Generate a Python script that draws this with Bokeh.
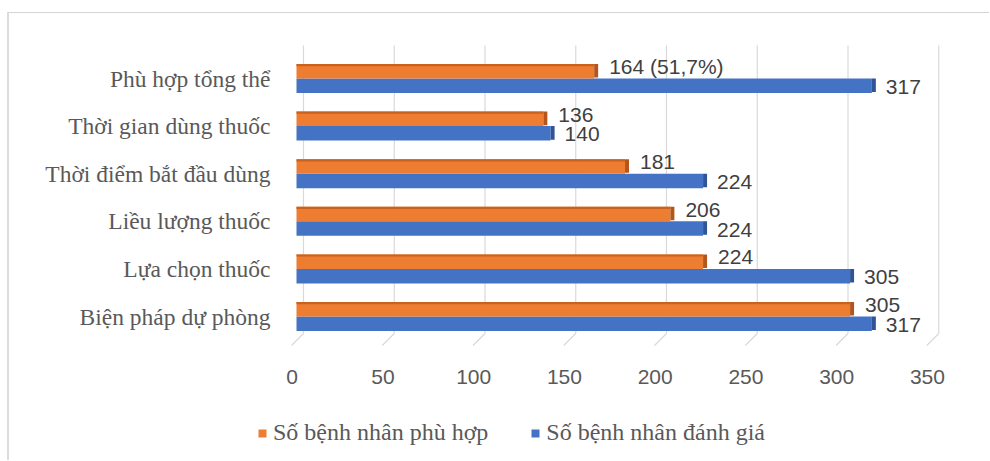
from bokeh.plotting import figure
from bokeh.models import Range1d, LinearAxis, FixedTicker, Legend, LegendItem, Spacer
from bokeh.layouts import column, row
from bokeh.core.properties import value
from bokeh.embed import file_html
from bokeh.resources import INLINE

# ---------------- data ----------------
categories = ["Biện pháp dự phòng", "Lựa chọn thuốc", "Liều lượng thuốc",
              "Thời điểm bắt đầu dùng", "Thời gian dùng thuốc", "Phù hợp tổng thể"]
phu_hop = [305, 224, 206, 181, 136, 164]
danh_gia = [317, 305, 224, 224, 140, 317]
phu_hop_labels = ["305", "224", "206", "181", "136", "164 (51,7%)"]
danh_gia_labels = ["317", "305", "224", "224", "140", "317"]
x_ticks = [0, 50, 100, 150, 200, 250, 300, 350]
series_names = ["Số bệnh nhân phù hợp", "Số bệnh nhân đánh giá"]

# ---------------- layout constants (page pixels) ----------------
PX_PER_UNIT = 1.815
ZERO_PX = 296
FRAME_L, FRAME_R, FRAME_T, FRAME_B = 250, 960, 40, 458
ORIGIN_X, ORIGIN_Y = 9, 13          # canvas origin inside the bordered box
W = 990 - ORIGIN_X - 1
H = 461 - ORIGIN_Y - 1
CAT_PX = 47.6
CAT0_PX = 316
CAT_LABEL_RIGHT = 270
TICK_LABEL_TOP = 369

x0 = (FRAME_L - ZERO_PX) / PX_PER_UNIT
x1 = (FRAME_R - ZERO_PX) / PX_PER_UNIT
y0 = -(FRAME_B - CAT0_PX) / CAT_PX
y1 = (CAT0_PX - FRAME_T) / CAT_PX


def ypx(py):
    return (CAT0_PX - py) / CAT_PX


ORANGE, ORANGE_DARK, ORANGE_TOP = "#ED7D31", "#B4561C", "#C9621F"
BLUE, BLUE_DARK = "#4472C4", "#2F5597"
GRID = "#d9d9d9"
SANS = "Liberation Sans"
SERIF = "Liberation Serif"

p = figure(width=W, height=H, x_range=Range1d(x0, x1), y_range=Range1d(y0, y1),
           output_backend="svg", toolbar_location=None, x_axis_location=None,
           min_border_left=FRAME_L - ORIGIN_X,
           min_border_right=W - (FRAME_R - ORIGIN_X),
           min_border_top=FRAME_T - ORIGIN_Y,
           min_border_bottom=H - (FRAME_B - ORIGIN_Y))
p.outline_line_color = None
p.xgrid.grid_line_color = None
p.ygrid.grid_line_color = None

# ---------------- gridlines (back wall + slanted floor ticks) ----------------
d_back = 7 / PX_PER_UNIT
d_slant = 12 / PX_PER_UNIT
gx = [t + d_back for t in x_ticks]
p.segment(x0=gx, y0=[ypx(45)] * len(gx), x1=gx, y1=[ypx(333)] * len(gx),
          line_color=GRID, line_width=1.2)
p.segment(x0=gx, y0=[ypx(333)] * len(gx), x1=[g - d_slant for g in gx],
          y1=[ypx(345)] * len(gx), line_color=GRID, line_width=1.2)

# ---------------- bars ----------------
bar_h = 0.305
pos = list(range(len(categories)))
ph_y = [i + bar_h / 2 for i in pos]
dg_y = [i - bar_h / 2 for i in pos]
cap = 4 / PX_PER_UNIT
strip = 2.2 / CAT_PX

r_dg = p.hbar(y=dg_y, left=0, right=danh_gia, height=bar_h, fill_color=BLUE, line_color=None)
p.hbar(y=[v + 0.01 for v in dg_y], left=danh_gia, right=[v + cap for v in danh_gia],
       height=bar_h - 0.02, fill_color=BLUE_DARK, line_color=None)

r_ph = p.hbar(y=ph_y, left=0, right=phu_hop, height=bar_h, fill_color=ORANGE, line_color=None)
p.hbar(y=[v + bar_h / 2 - strip / 2 for v in ph_y], left=0, right=phu_hop, height=strip,
       fill_color=ORANGE_TOP, line_color=None)
p.hbar(y=[v + 0.01 for v in ph_y], left=phu_hop, right=[v + cap for v in phu_hop],
       height=bar_h - 0.02, fill_color=ORANGE_DARK, line_color=None)

# ---------------- data labels ----------------
p.text(x=phu_hop, y=[v + 0.09 for v in ph_y], text=phu_hop_labels, x_offset=15,
       text_baseline="middle", text_align="left", text_font=value(SANS),
       text_font_size="21px", text_color="#404040")
p.text(x=danh_gia, y=[v - 0.02 for v in dg_y], text=danh_gia_labels, x_offset=14,
       text_baseline="middle", text_align="left", text_font=value(SANS),
       text_font_size="21px", text_color="#404040")

# ---------------- axes ----------------
p.yaxis.ticker = FixedTicker(ticks=pos)
p.yaxis.major_label_overrides = {i: c for i, c in zip(pos, categories)}
p.yaxis.axis_line_color = None
p.yaxis.major_tick_line_color = None
p.yaxis.major_tick_out = 0
p.yaxis.major_tick_in = 0
p.yaxis.minor_tick_line_color = None
p.yaxis.major_label_text_font = SERIF
p.yaxis.major_label_text_font_size = "23.5px"
p.yaxis.major_label_text_color = "#595959"
p.yaxis.major_label_standoff = FRAME_L - CAT_LABEL_RIGHT

shift = 2.4
p.extra_x_ranges = {"lab": Range1d(x0 + shift, x1 + shift)}
xa = LinearAxis(x_range_name="lab", ticker=FixedTicker(ticks=x_ticks))
xa.axis_line_color = None
xa.major_tick_line_color = None
xa.major_tick_out = 0
xa.major_tick_in = 0
xa.minor_tick_line_color = None
xa.major_label_text_font = SANS
xa.major_label_text_font_size = "21px"
xa.major_label_text_color = "#595959"
xa.major_label_standoff = TICK_LABEL_TOP - FRAME_B
p.add_layout(xa, "below")

# ---------------- legend ----------------
legend = Legend(items=[LegendItem(label=series_names[0], renderers=[r_ph]),
                       LegendItem(label=series_names[1], renderers=[r_dg])],
                orientation="horizontal", location=(257 - FRAME_L, 12),
                border_line_color=None, background_fill_alpha=0,
                glyph_width=10, glyph_height=10, label_standoff=6, spacing=42,
                padding=0, margin=0,
                label_text_font=SERIF, label_text_font_size="24px",
                label_text_color="#595959")
p.add_layout(legend, "center")

box = column(p, styles={"border-top": "1px solid #d4d4d4",
                        "border-left": "2px solid #dcdcdc"})
layout = column(Spacer(height=12), row(Spacer(width=7), box))
open("out.html", "w").write(file_html(layout, INLINE))
